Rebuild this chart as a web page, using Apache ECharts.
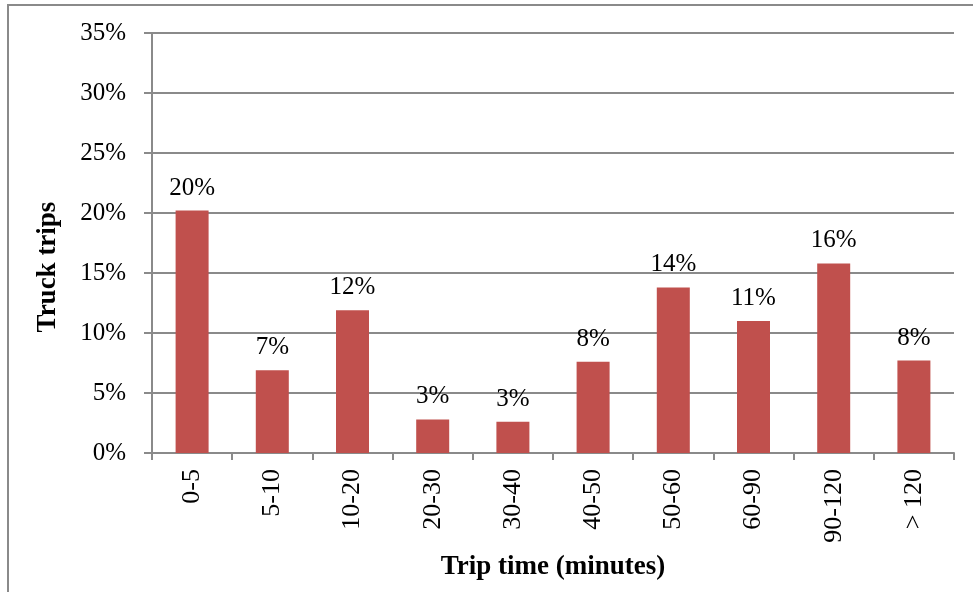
<!DOCTYPE html>
<html>
<head>
<meta charset="utf-8">
<script src="https://cdn.jsdelivr.net/npm/echarts@6/dist/echarts.min.js"></script>
<style>
html,body{margin:0;padding:0;background:#fff;}
#chart{width:973px;height:592px;}
</style>
</head>
<body>
<div id="chart"></div>
<script>
const categories = ['0-5','5-10','10-20','20-30','30-40','40-50','50-60','60-90','90-120','> 120'];
const truckTrips = [20.2, 6.9, 11.9, 2.8, 2.6, 7.6, 13.8, 11.0, 15.8, 7.7];
const yTicks = [0, 5, 10, 15, 20, 25, 30, 35];

const FONT = '"Liberation Serif", "Times New Roman", serif';
const GRID_COLOR = '#8a8a8a';

const chart = echarts.init(document.getElementById('chart'), null, {renderer: 'canvas'});
chart.setOption({
  animation: false,
  backgroundColor: '#ffffff',
  graphic: [{
    type: 'rect',
    shape: {x: 8, y: 5, width: 1200, height: 800},
    style: {fill: 'none', stroke: '#8a8a8a', lineWidth: 2},
    silent: true
  }],
  grid: {left: 152, top: 33, right: 19, bottom: 139},
  xAxis: {
    type: 'category',
    data: categories,
    name: 'Trip time (minutes)',
    nameLocation: 'middle',
    nameGap: 101,
    nameTextStyle: {fontFamily: FONT, fontSize: 27, fontWeight: 'bold', color: '#000'},
    axisLine: {lineStyle: {color: GRID_COLOR, width: 2}},
    axisTick: {show: true, length: 7, lineStyle: {color: GRID_COLOR, width: 2}},
    axisLabel: {rotate: 90, margin: 16, fontFamily: FONT, fontSize: 26, color: '#000'}
  },
  yAxis: {
    type: 'value',
    min: yTicks[0],
    max: yTicks[yTicks.length - 1],
    interval: 5,
    name: 'Truck trips',
    nameLocation: 'middle',
    nameGap: 90,
    nameRotate: 90,
    nameTextStyle: {fontFamily: FONT, fontSize: 27, fontWeight: 'bold', color: '#000', padding: [0, 48, 0, 0]},
    axisLine: {show: true, lineStyle: {color: GRID_COLOR, width: 2}},
    axisTick: {show: true, length: 8, lineStyle: {color: GRID_COLOR, width: 2}},
    splitLine: {show: true, lineStyle: {color: GRID_COLOR, width: 2}},
    axisLabel: {margin: 26, fontFamily: FONT, fontSize: 25, color: '#000', formatter: v => v + '%'}
  },
  series: [{
    type: 'bar',
    data: truckTrips,
    barWidth: 33,
    itemStyle: {color: '#C0504D'},
    label: {
      show: true,
      position: 'top',
      distance: 10,
      fontFamily: FONT,
      fontSize: 25,
      color: '#000',
      formatter: p => Math.round(p.value) + '%'
    }
  }]
});
</script>
</body>
</html>
